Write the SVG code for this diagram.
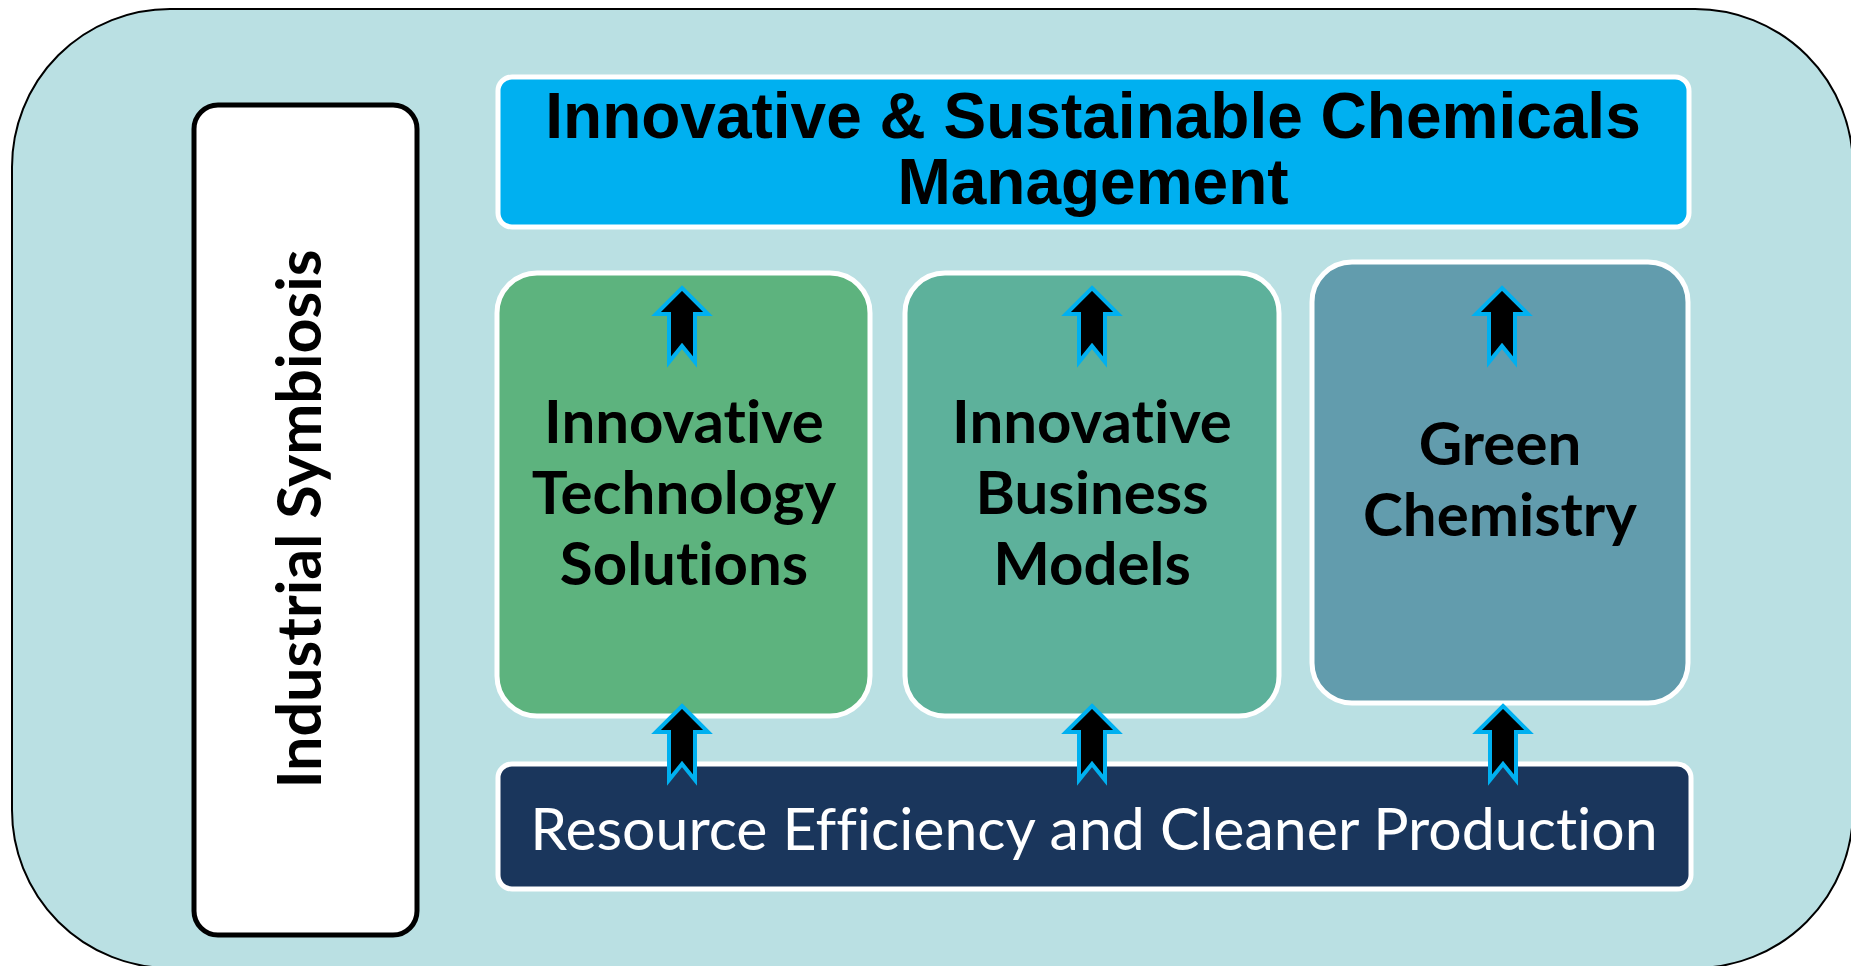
<svg xmlns="http://www.w3.org/2000/svg" width="1851" height="966" viewBox="0 0 1851 966">
<style>
text{font-variant-ligatures:none}
.box{stroke:#FFFFFF;stroke-width:5}
.lbl{font-family:Lato,"Open Sans","DejaVu Sans",sans-serif;font-weight:bold;font-size:60px;fill:#000000;text-anchor:middle}
.title{font-family:"Liberation Sans",Arial,sans-serif;font-weight:bold;font-size:64px;fill:#000000;text-anchor:middle}
.res{font-family:Lato,"Open Sans","DejaVu Sans",sans-serif;font-size:59px;fill:#FFFFFF;text-anchor:middle}
.arr{fill:#000000;stroke:#00B0F0;stroke-width:4;stroke-linejoin:miter}
</style>
<defs>
<path id="uparrow" d="M0,0 L26,26 L13,26 L13,74 L0,58 L-13,74 L-13,26 L-26,26 Z"/>
</defs>
<g id="background">
<rect x="12" y="9" width="1841" height="959" rx="158" ry="158" fill="#BAE0E3" stroke="#000000" stroke-width="2"/>
</g>
<g id="industrial-symbiosis">
<rect x="194" y="105" width="223" height="830" rx="24" ry="24" fill="#FFFFFF" stroke="#000000" stroke-width="5"/>
<text class="lbl" x="-519" y="321" transform="rotate(-90)" style="font-size:61px">Industrial Symbiosis</text>
</g>
<g id="chemicals-management">
<rect class="box" x="498" y="77" width="1191" height="150" rx="14" ry="14" fill="#00B0F0"/>
<text class="title" x="1093" y="138">Innovative &amp; Sustainable Chemicals</text>
<text class="title" x="1093" y="204">Management</text>
</g>
<g id="innovative-technology">
<rect class="box" x="497" y="273" width="373" height="443" rx="40" ry="40" fill="#5DB37E"/>
<text class="lbl" x="684" y="443">Innovative</text>
<text class="lbl" x="684" y="514">Technology</text>
<text class="lbl" x="684" y="585">Solutions</text>
</g>
<g id="innovative-business">
<rect class="box" x="905" y="273" width="374" height="443" rx="40" ry="40" fill="#5DB19B"/>
<text class="lbl" x="1092" y="443">Innovative</text>
<text class="lbl" x="1092" y="514">Business</text>
<text class="lbl" x="1092" y="585">Models</text>
</g>
<g id="green-chemistry">
<rect class="box" x="1312" y="262" width="376" height="441" rx="40" ry="40" fill="#629CAD"/>
<text class="lbl" x="1500" y="465">Green</text>
<text class="lbl" x="1500" y="536">Chemistry</text>
</g>
<g id="resource-efficiency">
<rect class="box" x="498" y="764" width="1193" height="125" rx="14" ry="14" fill="#1A365C"/>
<text class="res" x="1094" y="850">Resource Efficiency and Cleaner Production</text>
</g>
<g id="connectors">
<use href="#uparrow" class="arr" x="682" y="288"/>
<use href="#uparrow" class="arr" x="1092" y="288"/>
<use href="#uparrow" class="arr" x="1502" y="288"/>
<use href="#uparrow" class="arr" x="682" y="706"/>
<use href="#uparrow" class="arr" x="1092" y="706"/>
<use href="#uparrow" class="arr" x="1503" y="706"/>
</g>
</svg>
